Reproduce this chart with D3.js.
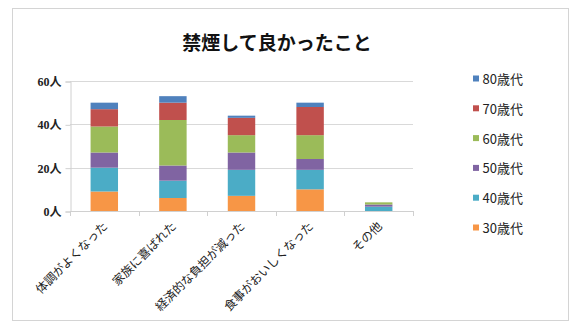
<!DOCTYPE html>
<html>
<head>
<meta charset="utf-8">
<script src="https://cdn.jsdelivr.net/npm/d3@7"></script>
<style>
  html, body { margin: 0; padding: 0; background: #fff; }
  svg { display: block; }
</style>
</head>
<body>
<svg id="chart" width="580" height="331"></svg>
<script>
// 禁煙して良かったこと — 年代別の回答人数
const categories = ["体調がよくなった", "家族に喜ばれた", "経済的な負担が減った", "食事がおいしくなった", "その他"];
const seriesNames = ["30歳代", "40歳代", "50歳代", "60歳代", "70歳代", "80歳代"];
const age30 = [9, 6, 7, 10, 0];
const age40 = [11, 8, 12, 9, 2];
const age50 = [7, 7, 8, 5, 1];
const age60 = [12, 21, 8, 11, 1];
const age70 = [8, 8, 8, 13, 0];
const age80 = [3, 3, 1, 2, 0];
const yTicks = [0, 20, 40, 60];
const colors = ["#F79646", "#4BACC6", "#8064A2", "#9BBB59", "#C0504D", "#4F81BD"];

const seriesValues = [age30, age40, age50, age60, age70, age80];
const rows = categories.map((c, i) => {
  const r = { category: c };
  seriesNames.forEach((s, k) => { r[s] = seriesValues[k][i]; });
  return r;
});

const svg = d3.select("#chart");
const sansJP = "'Noto Sans CJK JP', 'Noto Sans', sans-serif";
const serifJP = "'Liberation Serif', 'DejaVu Serif', 'Noto Sans CJK JP', serif";

// chart frame
svg.append("rect")
  .attr("x", 12.5).attr("y", 8.5)
  .attr("width", 556).attr("height", 312)
  .attr("fill", "#fff")
  .attr("stroke", "#d4d4d4").attr("stroke-width", 1);

const x = d3.scaleBand().domain(categories).range([70, 413]).paddingInner(0.6).paddingOuter(0.3);
const y = d3.scaleLinear().domain([0, 60]).range([211, 81]);

// gridlines
svg.append("g")
  .selectAll("line")
  .data(yTicks)
  .join("line")
  .attr("x1", 70).attr("x2", 413)
  .attr("y1", d => Math.round(y(d)) + 0.5).attr("y2", d => Math.round(y(d)) + 0.5)
  .attr("stroke", "#d9d9d9");

// y axis
const yAxis = svg.append("g")
  .attr("transform", "translate(70.5,0.5)")
  .call(d3.axisLeft(y).tickValues(yTicks).tickSize(5).tickPadding(4).tickFormat(d => d + "人"));
yAxis.select(".domain").attr("stroke", "#d0d0d0");
yAxis.selectAll(".tick line").attr("stroke", "#d0d0d0");
yAxis.selectAll(".tick text")
  .attr("font-family", serifJP)
  .attr("font-weight", "bold")
  .attr("font-size", 12)
  .attr("fill", "#222");

// stacked bars
const stacked = d3.stack().keys(seriesNames)(rows);
svg.append("g")
  .selectAll("g")
  .data(stacked)
  .join("g")
  .attr("fill", (d, i) => colors[i])
  .selectAll("rect")
  .data(d => d)
  .join("rect")
  .attr("x", d => x(d.data.category))
  .attr("width", x.bandwidth())
  .attr("y", d => y(d[1]))
  .attr("height", d => y(d[0]) - y(d[1]));

// x axis baseline and category ticks
const bounds = d3.range(categories.length + 1).map(i => 70 + i * (343 / categories.length));
svg.append("line")
  .attr("x1", 70).attr("x2", 413)
  .attr("y1", y(0) + 0.5).attr("y2", y(0) + 0.5)
  .attr("stroke", "#d0d0d0");
svg.append("g")
  .selectAll("line")
  .data(bounds)
  .join("line")
  .attr("x1", d => Math.round(d) + 0.5).attr("x2", d => Math.round(d) + 0.5)
  .attr("y1", y(0)).attr("y2", y(0) + 5)
  .attr("stroke", "#d0d0d0");

// rotated category labels
svg.append("g")
  .selectAll("text")
  .data(categories)
  .join("text")
  .attr("transform", d => `translate(${x(d) + x.bandwidth() / 2 + 1},${y(0) + 13}) rotate(-45)`)
  .attr("text-anchor", "end")
  .attr("dy", "0.35em")
  .attr("font-family", sansJP)
  .attr("font-size", 12)
  .attr("fill", "#222")
  .text(d => d);

// title
svg.append("text")
  .attr("x", 277).attr("y", 41)
  .attr("text-anchor", "middle")
  .attr("dominant-baseline", "central")
  .attr("font-family", sansJP)
  .attr("font-weight", "bold")
  .attr("font-size", 19)
  .attr("fill", "#111")
  .text("禁煙して良かったこと");

// legend (top entry is the last series)
const legend = svg.append("g")
  .selectAll("g")
  .data(seriesNames.slice().reverse())
  .join("g")
  .attr("transform", (d, i) => `translate(473,${78.5 + i * 29.8})`);
legend.append("rect")
  .attr("x", 0).attr("y", -3)
  .attr("width", 6).attr("height", 6)
  .attr("fill", d => colors[seriesNames.indexOf(d)]);
legend.append("text")
  .attr("x", 9.5).attr("y", 0)
  .attr("dominant-baseline", "central")
  .attr("font-family", sansJP)
  .attr("font-size", 13)
  .attr("fill", "#222")
  .text(d => d);
</script>
</body>
</html>
